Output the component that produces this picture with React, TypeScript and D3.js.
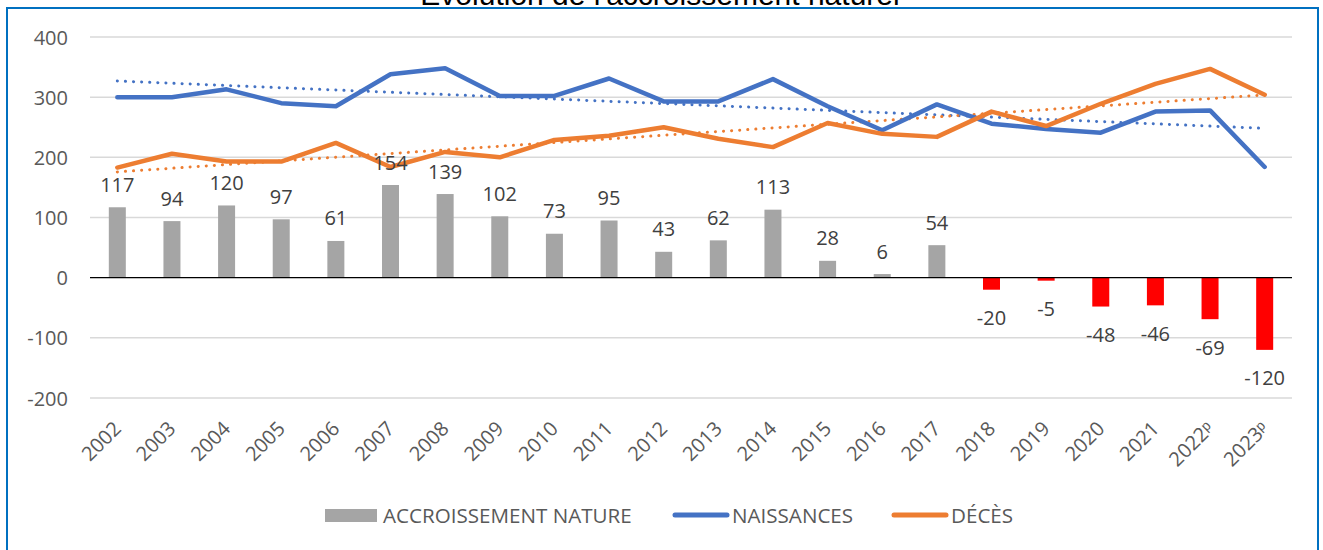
import React from "react";
import * as d3 from "d3";

const years = ["2002","2003","2004","2005","2006","2007","2008","2009","2010","2011","2012","2013","2014","2015","2016","2017","2018","2019","2020","2021","2022ᵖ","2023ᵖ"];
const accroissement = [117,94,120,97,61,154,139,102,73,95,43,62,113,28,6,54,-20,-5,-48,-46,-69,-120];
const naissances = [300,300,313,290,285,338,348,302,302,331,293,293,330,285,245,288,256,247,241,276,278,184];
const deces = [183,206,193,193,224,184,209,200,229,236,250,231,217,257,239,234,276,252,289,322,347,304];
const yTicks = [-200,-100,0,100,200,300,400];

const W = 1323, H = 550;
const FONT = "'Open Sans', sans-serif";

function trend(vals: number[]) {
  const n = vals.length;
  const xs = d3.range(n);
  const mx = d3.mean(xs)!, my = d3.mean(vals)!;
  const sxy = d3.sum(xs, (x, i) => (x - mx) * (vals[i] - my));
  const sxx = d3.sum(xs, x => (x - mx) * (x - mx));
  const b = sxy / sxx, a = my - b * mx;
  return xs.map(x => a + b * x);
}

export default function App() {
  const x = d3.scaleBand<string>().domain(years).range([90, 1292]).padding(0);
  const y = d3.scaleLinear().domain([-200, 400]).range([398, 37]);
  const cx = (c: string) => x(c)! + x.bandwidth() / 2;
  const barW = 17;
  const line = d3.line<number>().x((_, i) => cx(years[i])).y(v => y(v));
  const tN = trend(naissances);
  const tD = trend(deces);

  return (
    <svg width={W} height={H} style={{ position: "absolute", left: 0, top: 0, background: "#fff" }}>
      <rect x={0} y={0} width={W} height={H} fill="#fff" />
      <text x={660} y={5} textAnchor="middle" fontFamily="'Liberation Sans', Arial, sans-serif" fontSize={30} fill="#000">Évolution de l'accroissement naturel</text>
      <rect x={7} y={8} width={1311} height={H} fill="none" stroke="#0070C0" strokeWidth={2} />
      {yTicks.map(t => (
        <g key={t}>
          {t !== 0 && <line x1={90} x2={1292} y1={y(t)} y2={y(t)} stroke="#D9D9D9" strokeWidth={1.5} />}
          <text x={68} y={y(t)} textAnchor="end" dominantBaseline="central" fontFamily={FONT} fontSize={20} fill="#595959">{t}</text>
        </g>
      ))}
      {accroissement.map((v, i) => (
        <rect key={i} x={cx(years[i]) - barW / 2} y={y(Math.max(0, v))} width={barW} height={Math.abs(y(v) - y(0))} fill={v >= 0 ? "#A5A5A5" : "#FF0000"} />
      ))}
      <line x1={90} x2={1292} y1={y(0)} y2={y(0)} stroke="#000" strokeWidth={1.3} />
      <path d={line(tN)!} fill="none" stroke="#4472C4" strokeWidth={3} strokeDasharray="0.1 8" strokeLinecap="round" />
      <path d={line(tD)!} fill="none" stroke="#ED7D31" strokeWidth={3} strokeDasharray="0.1 8" strokeLinecap="round" />
      <path d={line(naissances)!} fill="none" stroke="#4472C4" strokeWidth={4.5} strokeLinejoin="round" strokeLinecap="round" />
      <path d={line(deces)!} fill="none" stroke="#ED7D31" strokeWidth={4.5} strokeLinejoin="round" strokeLinecap="round" />
      {accroissement.map((v, i) => (
        <text key={i} x={cx(years[i])} y={v >= 0 ? y(v) - 23 : y(v) + 28} textAnchor="middle" dominantBaseline="central" fontFamily={FONT} fontSize={20} fill="#404040">{v}</text>
      ))}
      {years.map(c => (
        <text key={c} transform={`translate(${cx(c) + 5},${430}) rotate(-45)`} textAnchor="end" fontFamily={FONT} fontSize={20} fill="#595959">{c}</text>
      ))}
      <g fontFamily={FONT} fontSize={20.6} fill="#595959">
        <rect x={325} y={509} width={52} height={13} fill="#A5A5A5" />
        <text x={383} y={515} dominantBaseline="central">ACCROISSEMENT NATURE</text>
        <line x1={675} x2={727} y1={515} y2={515} stroke="#4472C4" strokeWidth={5} strokeLinecap="round" />
        <text x={732} y={515} dominantBaseline="central">NAISSANCES</text>
        <line x1={894} x2={946} y1={515} y2={515} stroke="#ED7D31" strokeWidth={5} strokeLinecap="round" />
        <text x={951} y={515} dominantBaseline="central">DÉCÈS</text>
      </g>
    </svg>
  );
}
